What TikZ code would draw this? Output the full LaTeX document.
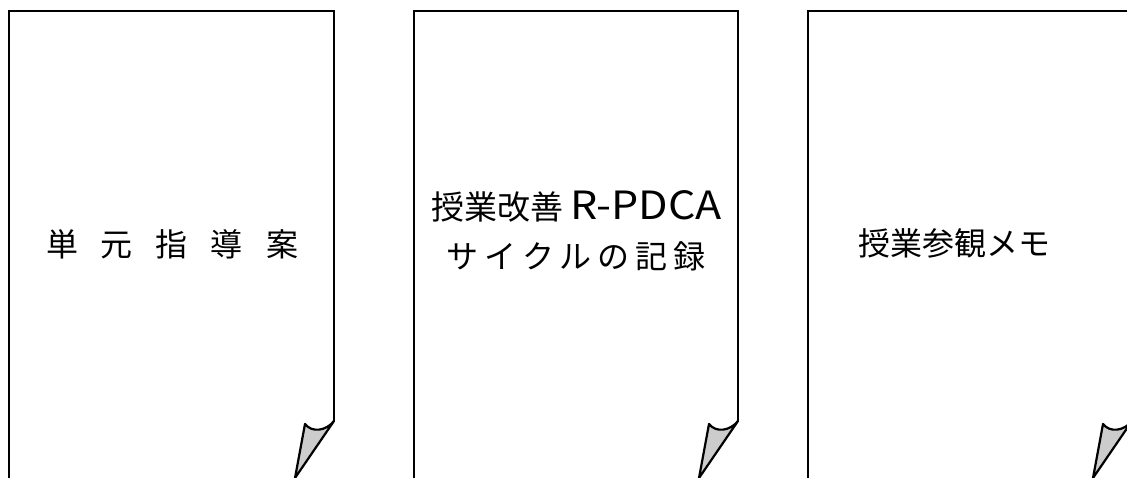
\documentclass[tikz,border=0pt]{standalone}
\usepackage{fontspec}
\newfontfamily\cjk{Noto Sans CJK JP}
\usepackage{graphicx}
\tikzset{
  page/.style={draw=black, line width=2.2pt, line join=miter},
  curl/.style={draw=black, fill=black!20, line width=2.2pt, line join=round},
  label/.style={inner sep=0pt, font=\cjk\fontsize{32}{38}\selectfont, text=black, align=center}
}
\newcommand{\pagewithfold}[3]{%
  % #1 left x, #2 right x, #3 name
  \draw[page] (#1,490) -- (#1,11) -- (#2,11) -- (#2,421);
  \coordinate (#3c) at (#2,421);
  \coordinate (#3l) at ({#2-29},424);
  \coordinate (#3t) at ({#2-39},478);
  \draw[curl] (#3c) .. controls ({#2-8},431) and ({#2-22},433) .. (#3l) -- (#3t) -- cycle;
}
\begin{document}
\begin{tikzpicture}[x=1pt,y=-1pt]
\useasboundingbox (0,0) rectangle (1127,477);
\fill[white] (0,0) rectangle (1127,477);
\clip (0,0) rectangle (1127,477);
\pagewithfold{9}{334}{p1}
\pagewithfold{414}{738}{p2}
\pagewithfold{808}{1132}{p3}
\node[label] (t1) at (172,244) {単\hspace{23pt}元\hspace{23pt}指\hspace{23pt}導\hspace{23pt}案};
\node[label] (t2a) at (577,206) {{\fontsize{33}{38}\selectfont 授業改善}\hspace{7pt}\resizebox{151pt}{29pt}{\fontsize{40}{44}\selectfont R-PDCA}};
\node[label] (t2b) at (576,256) {サ\hspace{5.7pt}イ\hspace{5.7pt}ク\hspace{5.7pt}ル\hspace{5.7pt}の\hspace{5.7pt}記\hspace{5.7pt}録};
\node[label] (t3) at (954,243) {授業参観メモ};
\end{tikzpicture}
\end{document}
